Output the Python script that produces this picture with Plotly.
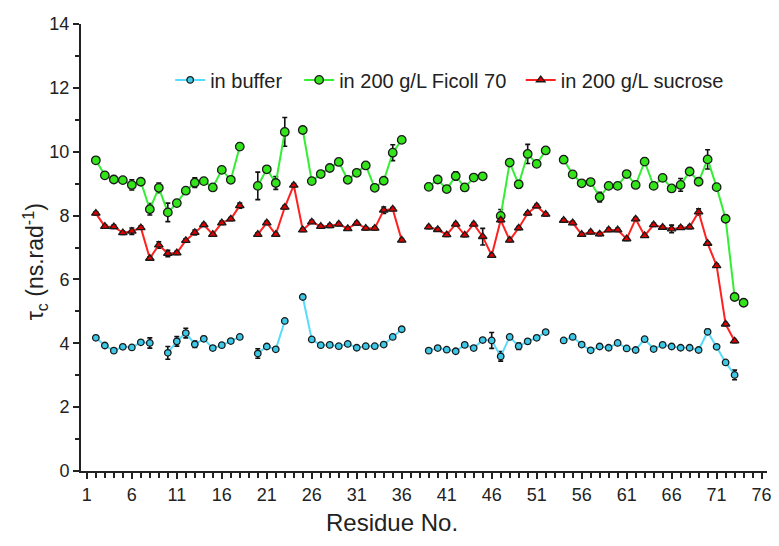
import plotly.graph_objects as go

residues = list(range(1, 75))

N = None
# tau_c values (ns/rad) per residue 1..74; None = no data
buffer_vals = [
    N, 4.17, 3.93, 3.77, 3.89, 3.87, 4.03, 4.01, N, 3.70,          # 1-10
    4.06, 4.32, 3.97, 4.14, 3.85, 3.94, 4.07, 4.20, N, 3.68,       # 11-20
    3.90, 3.81, 4.70, N, 5.45, 4.12, 3.94, 3.95, 3.91, 3.98,       # 21-30
    3.86, 3.91, 3.91, 3.96, 4.20, 4.44, N, N, 3.77, 3.85,          # 31-40
    3.80, 3.75, 3.95, 3.85, 4.10, 4.09, 3.59, 4.20, 3.91, 4.06,    # 41-50
    4.17, 4.35, N, 4.09, 4.20, 3.96, 3.78, 3.90, 3.86, 4.01,       # 51-60
    3.84, 3.79, 4.13, 3.82, 3.95, 3.90, 3.86, 3.86, 3.79, 4.36,    # 61-70
    3.89, 3.40, 3.01, N,                                           # 71-74
]
buffer_err = [
    N, 0.05, 0.05, 0.05, 0.05, 0.05, 0.05, 0.16, N, 0.20,
    0.15, 0.15, 0.10, 0.07, 0.05, 0.05, 0.05, 0.05, N, 0.15,
    0.05, 0.05, 0.05, N, 0.05, 0.05, 0.05, 0.05, 0.05, 0.05,
    0.05, 0.05, 0.05, 0.05, 0.05, 0.05, N, N, 0.05, 0.05,
    0.05, 0.05, 0.05, 0.05, 0.05, 0.25, 0.15, 0.05, 0.10, 0.05,
    0.05, 0.05, N, 0.05, 0.05, 0.05, 0.05, 0.05, 0.05, 0.05,
    0.05, 0.05, 0.05, 0.05, 0.05, 0.05, 0.05, 0.05, 0.05, 0.08,
    0.05, 0.05, 0.15, N,
]

ficoll_vals = [
    N, 9.73, 9.26, 9.13, 9.11, 8.96, 9.06, 8.20, 8.87, 8.10,       # 1-10
    8.39, 8.78, 9.03, 9.08, 8.88, 9.43, 9.12, 10.16, N, 8.93,      # 11-20
    9.45, 9.02, 10.62, N, 10.68, 9.08, 9.30, 9.49, 9.68, 9.12,     # 21-30
    9.34, 9.57, 8.87, 9.09, 9.97, 10.37, N, N, 8.90, 9.13,         # 31-40
    8.83, 9.24, 8.88, 9.19, 9.23, N, 7.99, 9.66, 8.98, 9.93,       # 41-50
    9.62, 10.04, N, 9.75, 9.29, 9.01, 9.05, 8.58, 8.93, 8.93,      # 51-60
    9.30, 8.96, 9.69, 8.93, 9.18, 8.85, 8.96, 9.38, 9.06, 9.76,    # 61-70
    8.89, 7.90, 5.45, 5.27,                                        # 71-74
]
ficoll_err = [
    N, 0.05, 0.05, 0.05, 0.05, 0.16, 0.05, 0.18, 0.15, 0.29,
    0.05, 0.05, 0.15, 0.05, 0.05, 0.10, 0.05, 0.10, N, 0.43,
    0.05, 0.20, 0.45, N, 0.08, 0.05, 0.05, 0.05, 0.05, 0.05,
    0.05, 0.05, 0.05, 0.05, 0.25, 0.10, N, N, 0.05, 0.05,
    0.05, 0.13, 0.10, 0.05, 0.05, N, 0.20, 0.05, 0.12, 0.30,
    0.05, 0.05, N, 0.05, 0.05, 0.05, 0.05, 0.15, 0.05, 0.05,
    0.05, 0.05, 0.10, 0.05, 0.05, 0.05, 0.20, 0.05, 0.05, 0.30,
    0.05, 0.05, 0.05, 0.05,
]

sucrose_vals = [
    N, 8.07, 7.66, 7.65, 7.46, 7.51, 7.62, 6.66, 7.08, 6.81,       # 1-10
    6.83, 7.22, 7.47, 7.71, 7.41, 7.77, 7.89, 8.31, N, 7.41,       # 11-20
    7.77, 7.41, 8.26, 8.95, 7.55, 7.80, 7.66, 7.68, 7.73, 7.59,    # 21-30
    7.76, 7.60, 7.60, 8.17, 8.20, 7.23, N, N, 7.64, 7.56,          # 31-40
    7.40, 7.73, 7.39, 7.73, 7.34, 6.75, 7.86, 7.23, 7.61, 8.07,    # 41-50
    8.30, 8.04, N, 7.85, 7.77, 7.41, 7.48, 7.42, 7.55, 7.55,       # 51-60
    7.27, 7.89, 7.37, 7.71, 7.63, 7.58, 7.62, 7.64, 8.11, 7.13,    # 61-70
    6.43, 4.60, 4.07, N,                                           # 71-74
]
sucrose_err = [
    N, 0.05, 0.05, 0.05, 0.05, 0.10, 0.05, 0.05, 0.10, 0.10,
    0.05, 0.05, 0.08, 0.05, 0.05, 0.05, 0.05, 0.08, N, 0.05,
    0.05, 0.05, 0.05, 0.05, 0.05, 0.05, 0.05, 0.05, 0.05, 0.05,
    0.05, 0.05, 0.05, 0.10, 0.05, 0.05, N, N, 0.05, 0.05,
    0.05, 0.05, 0.05, 0.05, 0.26, 0.05, 0.05, 0.05, 0.05, 0.05,
    0.05, 0.05, N, 0.05, 0.05, 0.05, 0.05, 0.05, 0.05, 0.05,
    0.05, 0.05, 0.05, 0.05, 0.05, 0.12, 0.05, 0.05, 0.10, 0.05,
    0.05, 0.05, 0.05, N,
]

series_names = ["in buffer", "in 200 g/L Ficoll 70", "in 200 g/L sucrose"]
x_tick_vals = list(range(1, 77, 5))
y_tick_vals = list(range(0, 15, 2))
x_title = "Residue No."
y_title = "τ<sub>c</sub> (ns.rad<sup>-1</sup>)"

fig = go.Figure()

def add_series(name, vals, errs, line_color, fill, symbol, size, legend_id):
    fig.add_trace(go.Scatter(
        x=residues, y=vals, name=name, mode="lines+markers",
        connectgaps=False, legend=legend_id,
        line=dict(color=line_color, width=2),
        marker=dict(symbol=symbol, size=size, color=fill,
                    line=dict(color="#1a1a1a", width=1.3)),
        error_y=dict(type="data", array=errs, visible=True,
                     color="#111111", thickness=1.6, width=2.5),
    ))

add_series(series_names[0], buffer_vals, buffer_err, "#55dcff", "#3cc8e6", "circle", 6.5, "legend")
add_series(series_names[1], ficoll_vals, ficoll_err, "#33ee33", "#33e41a", "circle", 8.5, "legend2")
add_series(series_names[2], sucrose_vals, sucrose_err, "#ff2020", "#e00000", "triangle-up", 7.5, "legend3")

font_family = "Liberation Sans, Arial, sans-serif"

def legend_box(xpos):
    return dict(orientation="h", x=xpos, y=0.875, xanchor="left", yanchor="middle",
                font=dict(size=20, color="#222222"), itemwidth=30,
                bgcolor="rgba(0,0,0,0)")

fig.update_layout(
    width=779, height=546,
    margin=dict(l=73, r=20, t=16, b=83, autoexpand=False),
    plot_bgcolor="white", paper_bgcolor="white",
    font=dict(family=font_family, color="#222222", size=16),
    showlegend=True,
    legend=legend_box(0.13),
    legend2=legend_box(0.318),
    legend3=legend_box(0.641),
    xaxis=dict(
        range=[0.35, 76.6], showgrid=False, zeroline=False, automargin=False,
        showline=True, linecolor="#222222", linewidth=2,
        tickmode="array", tickvals=x_tick_vals,
        ticks="outside", ticklen=6, tickwidth=1.5, tickcolor="#222222",
        tickfont=dict(size=18),
        minor=dict(dtick=1, tick0=1, ticks="outside", ticklen=5, tickwidth=1.5,
                   tickcolor="#222222", showgrid=False),
    ),
    yaxis=dict(
        range=[0, 14], showgrid=False, zeroline=False, automargin=False,
        showline=True, linecolor="#222222", linewidth=2,
        tickmode="array", tickvals=y_tick_vals,
        ticks="outside", ticklen=6, tickwidth=1.5, tickcolor="#222222",
        tickfont=dict(size=18),
        minor=dict(dtick=1, tick0=0, ticks="outside", ticklen=4, tickwidth=1.5,
                   tickcolor="#222222", showgrid=False),
    ),
    annotations=[
        dict(text=x_title, xref="paper", yref="paper", x=0.453, y=-0.115,
             xanchor="center", yanchor="middle", showarrow=False,
             font=dict(size=24, color="#222222")),
        dict(text=y_title, xref="paper", yref="paper", x=-0.067, y=0.467,
             xanchor="center", yanchor="middle", showarrow=False, textangle=-90,
             font=dict(size=23, color="#222222")),
    ],
)

fig.write_html("out.html")
